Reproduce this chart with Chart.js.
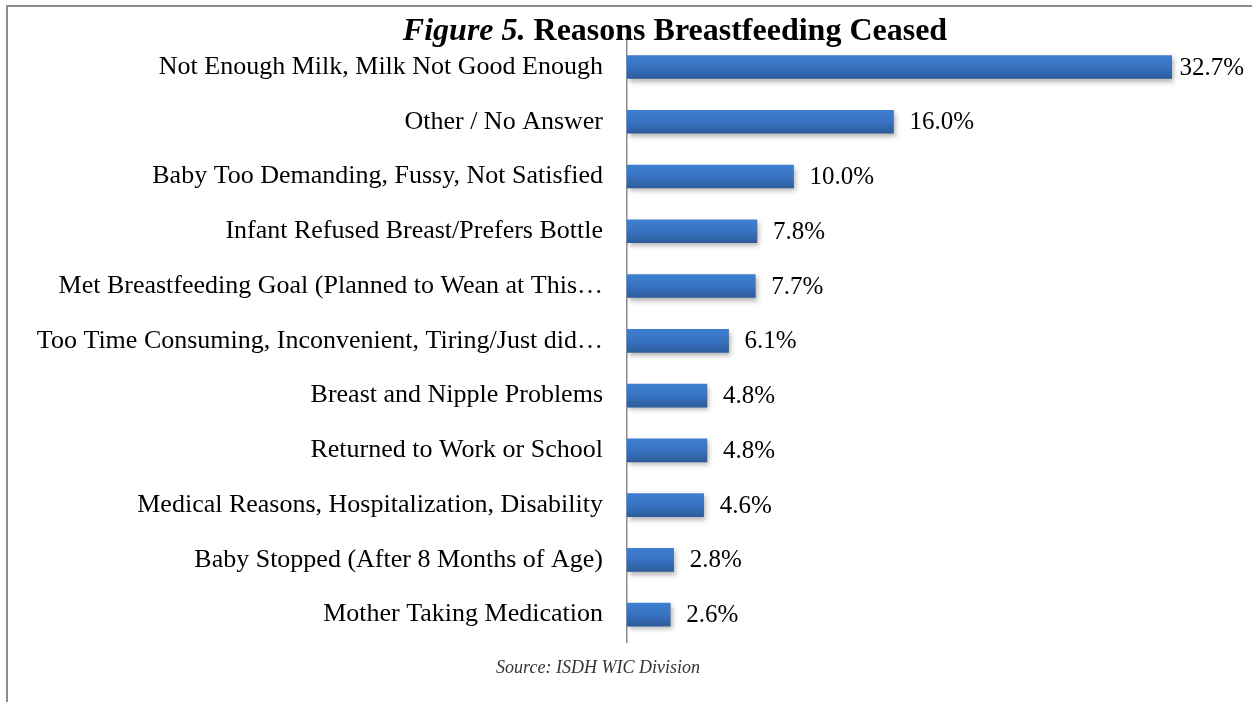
<!DOCTYPE html>
<html>
<head>
<meta charset="utf-8">
<script src="https://cdn.jsdelivr.net/npm/chart.js@4/dist/chart.umd.min.js"></script>
<style>
  body { margin: 0; background: #fff; }
  #wrap { position: relative; width: 1252px; height: 702px; overflow: hidden; }
  #frame { position: absolute; left: 6px; top: 5px; width: 1300px; height: 800px;
           border-left: 2px solid #8c8c8c; border-top: 2px solid #8c8c8c; }
  #title { position: absolute; left: 0; width: 1350px; top: 11px; text-align: center;
           font: bold 32px "Liberation Serif", serif; color: #000; }
  #source { position: absolute; left: 0; width: 1196px; top: 657px; text-align: center;
            font: italic 18px "Liberation Serif", serif; color: #333; }
  #chartBox { position: absolute; left: 0; top: 0; width: 1252px; height: 702px; }
</style>
</head>
<body>
<div id="wrap">
  <div id="frame"></div>
  <div id="chartBox"><canvas id="myChart" width="1252" height="702"></canvas></div>
  <div id="title"><i>Figure 5.</i> Reasons Breastfeeding Ceased</div>
  <div id="source">Source: ISDH WIC Division</div>
</div>
<script>
// Data grafik
const alasan = [
    'Not Enough Milk, Milk Not Good Enough',
    'Other / No Answer',
    'Baby Too Demanding, Fussy, Not Satisfied',
    'Infant Refused Breast/Prefers Bottle',
    'Met Breastfeeding Goal (Planned to Wean at This\u2026',
    'Too Time Consuming, Inconvenient, Tiring/Just did\u2026',
    'Breast and Nipple Problems',
    'Returned to Work or School',
    'Medical Reasons, Hospitalization, Disability',
    'Baby Stopped (After 8 Months of Age)',
    'Mother Taking Medication'
];
const persen = [32.7, 16.0, 10.0, 7.8, 7.7, 6.1, 4.8, 4.8, 4.6, 2.8, 2.6];

// Label nilai di ujung bar + bayangan bar
const valueLabels = {
    id: 'valueLabels',
    beforeDatasetsDraw(chart) {
        const ctx = chart.ctx;
        ctx.save();
        ctx.shadowColor = 'rgba(0,0,0,0.3)';
        ctx.shadowBlur = 5;
        ctx.shadowOffsetX = 2;
        ctx.shadowOffsetY = 3;
    },
    afterDatasetsDraw(chart) {
        const ctx = chart.ctx;
        ctx.restore();
        ctx.save();
        ctx.font = '25px "Liberation Serif", serif';
        ctx.fillStyle = '#000';
        ctx.textBaseline = 'middle';
        chart.getDatasetMeta(0).data.forEach((bar, i) => {
            const txt = persen[i].toFixed(1) + '%';
            const w = ctx.measureText(txt).width;
            let x = bar.x + 16;
            if (x + w > chart.width - 8) x = chart.width - 8 - w;
            ctx.fillText(txt, x, bar.y + 1);
        });
        ctx.restore();
    }
};

const ctx = document.getElementById('myChart').getContext('2d');
const chart = new Chart(ctx, {
    type: 'bar',
    data: {
        labels: alasan,
        datasets: [{
            data: persen,
            barThickness: 23,
            borderWidth: 0,
            backgroundColor: function (c) {
                const yScale = c.chart.scales.y;
                if (!yScale) return '#3770bd';
                const y = yScale.getPixelForValue(c.dataIndex);
                if (!isFinite(y)) return '#3770bd';
                const g = c.chart.ctx.createLinearGradient(0, y - 12, 0, y + 12);
                g.addColorStop(0, '#3e7fd1');
                g.addColorStop(0.5, '#3873c2');
                g.addColorStop(1, '#2c5b9a');
                return g;
            }
        }]
    },
    options: {
        indexAxis: 'y',
        responsive: false,
        animation: false,
        layout: { padding: { top: 39, bottom: 60, left: 0, right: 2 } },
        plugins: {
            legend: { display: false },
            tooltip: { enabled: false },
            title: { display: false }
        },
        scales: {
            x: {
                display: false,
                min: 0,
                max: 37.4
            },
            y: {
                afterFit: function (scale) { scale.width = 627; },
                grid: { display: false, drawTicks: false },
                border: { display: true, color: '#8c8c8c', width: 1.5 },
                ticks: {
                    padding: 24,
                    color: '#000',
                    font: { family: '"Liberation Serif", serif', size: 26 }
                }
            }
        }
    },
    plugins: [valueLabels]
});
chart.update();
</script>
</body>
</html>
